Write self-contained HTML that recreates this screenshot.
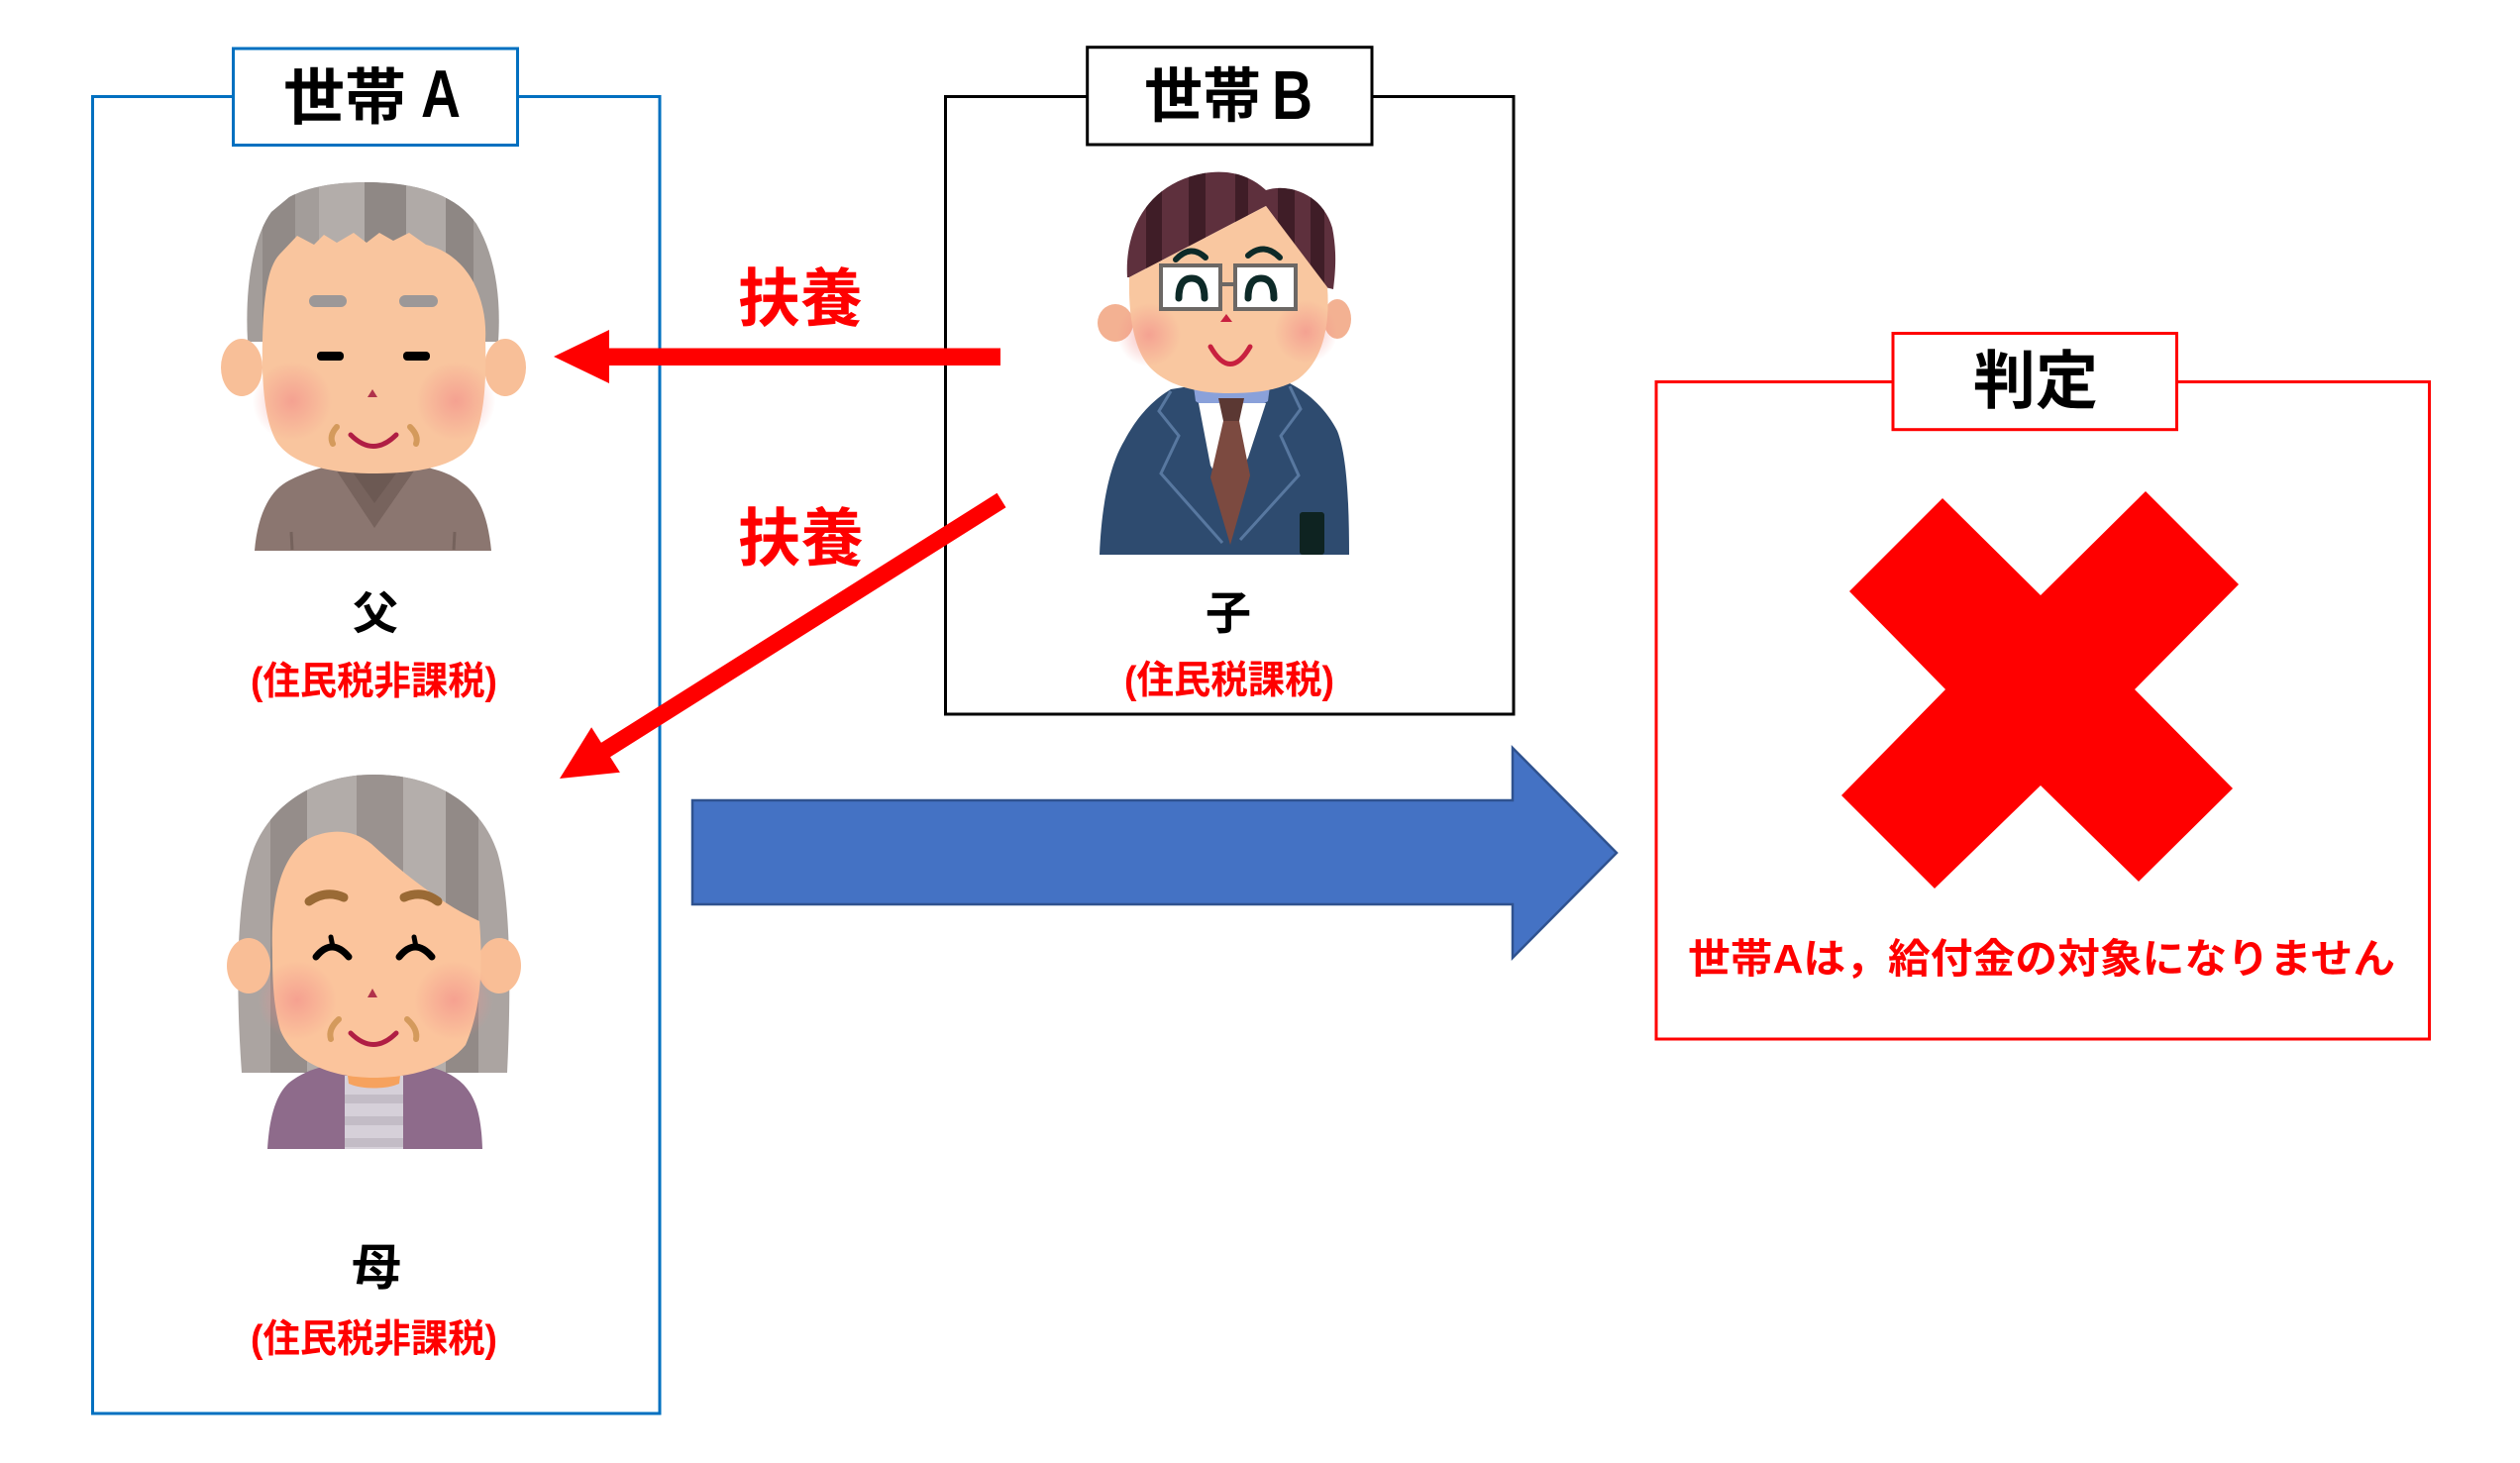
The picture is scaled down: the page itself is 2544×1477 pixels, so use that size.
<!DOCTYPE html>
<html><head><meta charset="utf-8">
<style>
html,body{margin:0;padding:0;background:#fff;}
svg{display:block;}
text{font-family:"Liberation Sans","Noto Sans CJK JP",sans-serif;font-weight:bold;}
</style></head><body>
<svg width="2544" height="1477" viewBox="0 0 2544 1477" xmlns="http://www.w3.org/2000/svg">
<defs>
<radialGradient id="bl"><stop offset="0" stop-color="#F28E8A" stop-opacity="0.65"/><stop offset="1" stop-color="#F28E8A" stop-opacity="0"/></radialGradient>
<clipPath id="fh"><path d="M 250 345 C 247 290 255 240 274 214 L 292 199 C 312 188 340 184 370 184 C 420 184 460 196 481 226 C 500 258 506 300 503 345 Z"/></clipPath>
<clipPath id="mh"><path d="M 244 1083 C 238 1000 238 905 255 860 C 272 813 318 782 377 782 C 440 782 486 812 502 860 C 516 905 516 1000 512 1083 Z"/></clipPath>
<clipPath id="sh"><path d="M 1138 280 C 1135 230 1160 185 1215 175 C 1245 170 1265 180 1278 192 C 1300 185 1335 195 1345 230 C 1350 255 1348 275 1346 292 L 1338 290 L 1278 208 L 1140 280 Z"/></clipPath>
</defs>
<rect width="2544" height="1477" fill="#fff"/>

<!-- Box A -->
<rect x="93.5" y="97.5" width="572.5" height="1329.5" fill="none" stroke="#0070C0" stroke-width="3"/>
<rect x="235.5" y="49" width="287" height="97.5" fill="#fff" stroke="#0070C0" stroke-width="3"/>
<!-- Box B -->
<rect x="954.5" y="97.5" width="573.5" height="623.5" fill="none" stroke="#000" stroke-width="3"/>
<rect x="1097.7" y="47.7" width="287.3" height="98.3" fill="#fff" stroke="#000" stroke-width="3"/>
<!-- Judgement box -->
<rect x="1672" y="385.5" width="780.5" height="663.5" fill="none" stroke="#FF0000" stroke-width="3"/>
<rect x="1911" y="336.5" width="286.5" height="97.2" fill="#fff" stroke="#FF0000" stroke-width="3"/>

<!-- Father -->
<g>
<path d="M 250 345 C 247 290 255 240 274 214 L 292 199 C 312 188 340 184 370 184 C 420 184 460 196 481 226 C 500 258 506 300 503 345 Z" fill="#A39D9A"/>
<g clip-path="url(#fh)">
<rect x="265" y="180" width="33" height="180" fill="#918A87"/>
<rect x="322" y="180" width="46" height="180" fill="#B3ADAA"/>
<rect x="368" y="180" width="42" height="180" fill="#8F8885"/>
<rect x="410" y="180" width="40" height="180" fill="#B0AAA7"/>
<rect x="450" y="180" width="28" height="180" fill="#8E8784"/>
</g>
<path d="M 257 556 C 260 520 272 495 292 485 C 308 477 322 472 337 470 L 420 470 C 440 473 455 478 466 487 C 485 500 493 525 496 556 Z" fill="#8B7670"/>
<polygon points="337,471 421,471 378,533" fill="#77635D"/>
<polygon points="352,471 405,471 378,508" fill="#6C5953"/>
<line x1="294" y1="537" x2="295" y2="555" stroke="#75625C" stroke-width="3"/>
<line x1="459" y1="537" x2="458" y2="555" stroke="#75625C" stroke-width="3"/>
<ellipse cx="244" cy="371" rx="21" ry="29" fill="#F8BF98"/>
<ellipse cx="510" cy="371" rx="21" ry="29" fill="#F8BF98"/>
<path d="M 265 343 C 266 300 270 270 282 257 L 300 238 L 317 247 L 327 237 L 340 245 L 357 235 L 370 245 L 383 235 L 397 243 L 413 235 L 430 247 C 455 253 470 270 478 285 C 488 305 491 325 490 343 C 491 380 490 420 477 447 C 465 468 430 478 377 478 C 330 478 295 468 280 447 C 266 425 264 380 265 343 Z" fill="#F9C59E"/>
<circle cx="295" cy="405" r="40" fill="url(#bl)"/>
<circle cx="460" cy="405" r="40" fill="url(#bl)"/>
<rect x="312" y="298" width="38" height="12" rx="6" fill="#9C9898"/>
<rect x="403" y="298" width="39" height="12" rx="6" fill="#9C9898"/>
<rect x="320" y="355" width="27" height="9" rx="4" fill="#000"/>
<rect x="407" y="355" width="27" height="9" rx="4" fill="#000"/>
<polygon points="376,393 371,401 381,401" fill="#B0324B"/>
<path d="M 354 439 Q 377 462 400 439" fill="none" stroke="#B01E44" stroke-width="5" stroke-linecap="round"/>
<path d="M 340 431 Q 332 440 336 448" fill="none" stroke="#D49A5C" stroke-width="6" stroke-linecap="round"/>
<path d="M 414 431 Q 423 440 420 448" fill="none" stroke="#D49A5C" stroke-width="6" stroke-linecap="round"/>
</g>

<!-- Mother -->
<g>
<path d="M 244 1083 C 238 1000 238 905 255 860 C 272 813 318 782 377 782 C 440 782 486 812 502 860 C 516 905 516 1000 512 1083 Z" fill="#ABA4A1"/>
<g clip-path="url(#mh)">
<rect x="273" y="780" width="37" height="310" fill="#958D8A"/>
<rect x="310" y="780" width="50" height="310" fill="#B2ACA9"/>
<rect x="360" y="780" width="47" height="310" fill="#9A928F"/>
<rect x="407" y="780" width="43" height="310" fill="#B4AEAB"/>
<rect x="450" y="780" width="33" height="310" fill="#928A87"/>
</g>
<path d="M 270 1160 C 272 1125 280 1100 296 1090 C 308 1082 318 1078 332 1076 L 428 1076 C 445 1079 458 1085 468 1095 C 482 1110 486 1130 487 1160 Z" fill="#8E6B8B"/>
<rect x="348" y="1086" width="59" height="74" fill="#D6D0D9"/>
<rect x="348" y="1105" width="59" height="9" fill="#C3BCC6"/>
<rect x="348" y="1127" width="59" height="9" fill="#C3BCC6"/>
<rect x="348" y="1149" width="59" height="9" fill="#C3BCC6"/>
<path d="M 350 1078 L 405 1078 L 403 1094 C 390 1100 365 1100 352 1094 Z" fill="#F6A25E"/>
<ellipse cx="251" cy="975" rx="22" ry="28" fill="#F9BE96"/>
<ellipse cx="504" cy="975" rx="22" ry="28" fill="#F9BE96"/>
<path d="M 275 960 C 273 905 285 860 315 845 C 340 835 360 840 375 852 C 400 875 440 910 484 930 C 488 980 485 1020 470 1055 C 450 1080 410 1088 378 1088 C 330 1088 295 1070 283 1040 C 276 1015 275 990 275 960 Z" fill="#FBC49C"/>
<circle cx="300" cy="1010" r="40" fill="url(#bl)"/>
<circle cx="458" cy="1010" r="40" fill="url(#bl)"/>
<path d="M 312 910 Q 329 898 347 906" fill="none" stroke="#9A6A35" stroke-width="9" stroke-linecap="round"/>
<path d="M 408 906 Q 426 898 442 910" fill="none" stroke="#9A6A35" stroke-width="9" stroke-linecap="round"/>
<path d="M 319 966 Q 335 946 352 966" fill="none" stroke="#000" stroke-width="7" stroke-linecap="round"/>
<line x1="334" y1="946" x2="336" y2="956" stroke="#000" stroke-width="5" stroke-linecap="round"/>
<path d="M 403 966 Q 419 946 436 966" fill="none" stroke="#000" stroke-width="7" stroke-linecap="round"/>
<line x1="418" y1="946" x2="420" y2="956" stroke="#000" stroke-width="5" stroke-linecap="round"/>
<polygon points="376,998 371,1007 381,1007" fill="#B0324B"/>
<path d="M 354 1043 Q 377 1066 400 1043" fill="none" stroke="#B01E44" stroke-width="5" stroke-linecap="round"/>
<path d="M 342 1029 Q 331 1039 334 1049" fill="none" stroke="#D49A5C" stroke-width="6" stroke-linecap="round"/>
<path d="M 411 1029 Q 422 1039 420 1049" fill="none" stroke="#D49A5C" stroke-width="6" stroke-linecap="round"/>
</g>

<!-- Son -->
<g>
<path d="M 1138 280 C 1135 230 1160 185 1215 175 C 1245 170 1265 180 1278 192 C 1300 185 1335 195 1345 230 C 1350 255 1348 275 1346 292 L 1338 290 L 1278 208 L 1140 280 Z" fill="#5E303D"/>
<g clip-path="url(#sh)">
<rect x="1157" y="170" width="16" height="130" fill="#3F1D27"/>
<rect x="1200" y="170" width="17" height="130" fill="#3F1D27"/>
<rect x="1247" y="170" width="13" height="130" fill="#3F1D27"/>
<rect x="1290" y="170" width="17" height="130" fill="#3F1D27"/>
<rect x="1323" y="170" width="14" height="130" fill="#3F1D27"/>
</g>
<path d="M 1110 560 C 1112 510 1120 470 1135 445 C 1148 420 1165 403 1182 393 L 1207 389 L 1280 389 L 1302 387 C 1322 397 1340 415 1350 435 C 1360 460 1362 510 1362 560 Z" fill="#2E4B6F"/>
<path d="M 1205 390 L 1282 390 L 1280 405 C 1265 415 1220 415 1207 405 Z" fill="#8AA1DA"/>
<polygon points="1210,407 1278,407 1260,462 1240,500 1222,470" fill="#fff"/>
<polygon points="1230,402 1256,402 1251,425 1235,425" fill="#5B3833"/>
<polygon points="1235,425 1251,425 1262,480 1242,550 1222,482" fill="#7C4A40"/>
<polyline points="1182,395 1170,415 1190,440 1172,478 1234,548" fill="none" stroke="#5878A0" stroke-width="3"/>
<polyline points="1302,390 1313,413 1293,440 1311,480 1252,545" fill="none" stroke="#5878A0" stroke-width="3"/>
<rect x="1312" y="517" width="25" height="43" rx="3" fill="#0E2321"/>
<ellipse cx="1126" cy="326" rx="18" ry="19" fill="#F3B192"/>
<ellipse cx="1350" cy="322" rx="14" ry="20" fill="#F3B192"/>
<path d="M 1140 280 L 1278 208 L 1340 290 C 1343 330 1335 365 1310 383 C 1290 395 1265 397 1240 397 C 1210 397 1180 390 1162 372 C 1145 355 1139 320 1140 280 Z" fill="#F9C7A0"/>
<circle cx="1160" cy="338" r="32" fill="url(#bl)"/>
<circle cx="1318" cy="335" r="32" fill="url(#bl)"/>
<rect x="1172" y="268" width="60" height="44" fill="#fff" stroke="#6C6865" stroke-width="4"/>
<rect x="1247" y="268" width="61" height="44" fill="#fff" stroke="#6C6865" stroke-width="4"/>
<line x1="1232" y1="287" x2="1247" y2="287" stroke="#6C6865" stroke-width="4"/>
<path d="M 1190 301 Q 1190 281 1203 281 Q 1216 281 1216 301" fill="none" stroke="#0D2A28" stroke-width="7" stroke-linecap="round"/>
<path d="M 1260 301 Q 1260 281 1273 281 Q 1286 281 1286 301" fill="none" stroke="#0D2A28" stroke-width="7" stroke-linecap="round"/>
<path d="M 1187 262 Q 1202 246 1217 260" fill="none" stroke="#0D2A28" stroke-width="6" stroke-linecap="round"/>
<path d="M 1260 258 Q 1276 244 1292 260" fill="none" stroke="#0D2A28" stroke-width="6" stroke-linecap="round"/>
<polygon points="1238,317 1232,325 1244,325" fill="#C8203F"/>
<path d="M 1222 350 Q 1242 385 1262 350" fill="none" stroke="#C8203F" stroke-width="5" stroke-linecap="round"/>
</g>

<!-- Big red X -->
<polygon points="1961,503 2060,601 2166,496 2260,590 2155,696 2254,796 2159,890 2060,793 1953,897 1859,803 1964,696 1867,597" fill="#FF0000"/>

<!-- Blue arrow -->
<polygon points="699,808 1527,808 1527,755 1632,861 1527,967 1527,913 699,913" fill="#4472C4" stroke="#2F528F" stroke-width="2.5"/>

<!-- Red arrows -->
<rect x="612" y="351.5" width="398" height="17.5" fill="#FF0000"/>
<polygon points="615,333 615,387 559,360" fill="#FF0000"/>
<polygon points="1015.5,512.2 1006.5,497.8 605,751 614,765.5" fill="#FF0000"/>
<polygon points="565,786 597.1,734.2 625.9,779.8" fill="#FF0000"/>

<!-- Texts -->
<text x="286" y="120" font-size="62" textLength="124" lengthAdjust="spacingAndGlyphs" fill="#000">世帯</text>
<text x="425" y="118" font-size="68" textLength="40" lengthAdjust="spacingAndGlyphs" fill="#000">A</text>
<text x="1155" y="118" font-size="60" textLength="118" lengthAdjust="spacingAndGlyphs" fill="#000">世帯</text>
<text x="1284" y="120" font-size="70" textLength="41" lengthAdjust="spacingAndGlyphs" fill="#000">B</text>
<text x="1992" y="407" font-size="64" textLength="126" lengthAdjust="spacingAndGlyphs" fill="#000">判定</text>

<text x="745" y="324" font-size="64" textLength="126" lengthAdjust="spacingAndGlyphs" fill="#FF0000">扶養</text>
<text x="745" y="566" font-size="64" textLength="127" lengthAdjust="spacingAndGlyphs" fill="#FF0000">扶養</text>

<text x="379" y="635" font-size="46" text-anchor="middle" fill="#000">父</text>
<text x="1240" y="635" font-size="46" text-anchor="middle" fill="#000">子</text>
<text x="380" y="1297" font-size="50" text-anchor="middle" fill="#000">母</text>

<text x="253" y="701" font-size="39" textLength="249" lengthAdjust="spacingAndGlyphs" fill="#FF0000">(住民税非課税)</text>
<text x="253" y="1365" font-size="39" textLength="249" lengthAdjust="spacingAndGlyphs" fill="#FF0000">(住民税非課税)</text>
<text x="1135" y="700" font-size="39" textLength="212" lengthAdjust="spacingAndGlyphs" fill="#FF0000">(住民税課税)</text>

<text x="1704" y="982" font-size="41" textLength="714" lengthAdjust="spacingAndGlyphs" fill="#FF0000">世帯Aは，給付金の対象になりません</text>
</svg>
</body></html>
